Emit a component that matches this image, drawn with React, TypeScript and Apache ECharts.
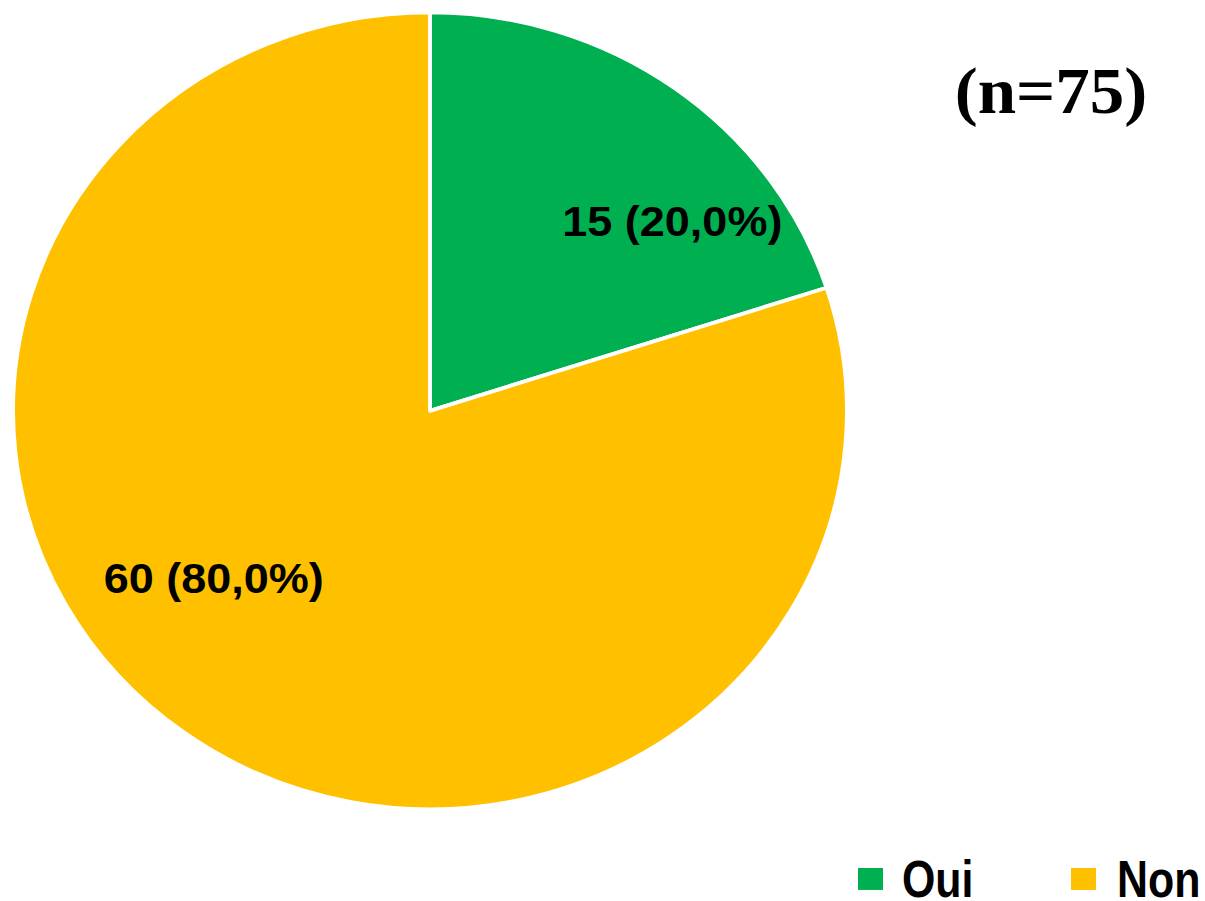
import React, { useEffect, useRef } from "react";
import * as echarts from "echarts";

const categories = ["Oui", "Non"];
const values = [15, 60];
const percents = ["20,0%", "80,0%"];
const colors = ["#00B050", "#FFC000"];
const sampleLabel = "(n=75)";

const SY = 0.9554; // vertical squash of the reference
const W = 1205;
const H = Math.round(901 / SY);

// legend layout (chart coordinates, before squash)
const legendIconX = [858, 1071];
const legendTextX = [902, 1117];
const legendCY = 920;

export default function App() {
  const ref = useRef<HTMLDivElement>(null);
  useEffect(() => {
    if (!ref.current) return;
    const chart = echarts.init(ref.current, null, { renderer: "svg" });
    const labelShift = [
      { dx: 118, dy: -28 },
      { dx: -92, dy: 4 },
    ];
    const legendGraphics: any[] = [];
    categories.forEach((c, i) => {
      legendGraphics.push({
        type: "rect",
        shape: { x: legendIconX[i], y: legendCY - 11.5, width: 25, height: 23 },
        style: { fill: colors[i] },
      });
      legendGraphics.push({
        type: "text",
        x: legendTextX[i],
        y: legendCY,
        scaleX: 0.78,
        style: {
          text: c,
          fontFamily: "'Liberation Sans', Arial, sans-serif",
          fontWeight: "bold",
          fontSize: 55,
          lineHeight: 40,
          fill: "#000",
          align: "left",
          verticalAlign: "middle",
        },
      });
    });
    chart.setOption({
      animation: false,
      backgroundColor: "#ffffff",
      graphic: [
        {
          type: "text",
          x: 1051,
          y: 95,
          style: {
            text: sampleLabel,
            fontFamily: "'Liberation Serif', 'Times New Roman', serif",
            fontWeight: "bold",
            fontSize: 69,
            fill: "#000",
            align: "center",
            verticalAlign: "middle",
          },
        },
        ...legendGraphics,
      ],
      series: [
        {
          type: "pie",
          center: [430, 430],
          radius: 417,
          startAngle: 90,
          clockwise: true,
          silent: true,
          itemStyle: { borderColor: "#ffffff", borderWidth: 4 },
          label: {
            show: true,
            position: "inside",
            formatter: (p: any) => `${p.value} (${percents[p.dataIndex]})`,
            fontFamily: "'Liberation Sans', Arial, sans-serif",
            fontWeight: "bold",
            fontSize: 45,
            color: "#000",
          },
          labelLine: { show: false },
          labelLayout: (p: any) => labelShift[p.dataIndex],
          data: categories.map((c, i) => ({
            name: c,
            value: values[i],
            itemStyle: { color: colors[i] },
          })),
        },
      ],
    });
    return () => chart.dispose();
  }, []);
  return (
    <div
      style={{
        position: "fixed",
        left: 0,
        top: 0,
        width: W,
        height: 901,
        overflow: "hidden",
        background: "#fff",
      }}
    >
      <div
        ref={ref}
        style={{
          width: W,
          height: H,
          transform: `scaleY(${SY})`,
          transformOrigin: "0 0",
        }}
      />
    </div>
  );
}
